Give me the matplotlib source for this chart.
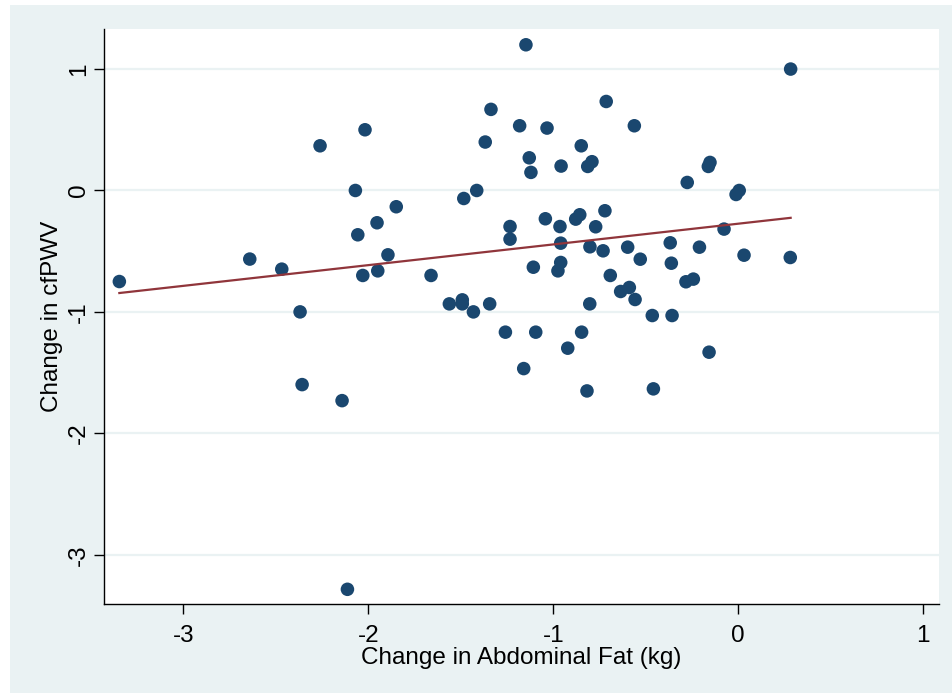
import numpy as np
import matplotlib
matplotlib.use('Agg')
import matplotlib.pyplot as plt
from matplotlib.patches import Rectangle

# Change in abdominal fat (kg) vs change in cfPWV
abd_fat = [
    -3.346, -2.641, -2.468, -2.369, -2.261, -2.018, -2.070, -2.057, -1.953, -1.849,
    -1.894, -2.030, -1.949, -2.358, -2.142, -2.113, -1.148, -1.337, -0.714, -1.182,
    -1.034, -0.562, -1.368, -0.849, -1.130, -1.121, -0.958, -0.814, -0.791, -0.276,
    -1.484, -1.414, -1.234, -1.234, -1.043, -0.964, -0.879, -0.857, -0.721, -0.771,
    -0.960, -0.802, -0.731, -0.598, -0.368, -0.210, -0.530, -0.362, -1.661, -1.108,
    -0.960, -0.975, -0.692, -0.636, -0.589, -0.558, -0.283, -0.243, -1.562, -1.492,
    -1.492, -1.432, -1.344, -0.803, -0.465, -0.358, 0.283, -0.162, -0.153, -0.012,
    0.005, -0.077, 0.031, 0.281, -1.259, -1.095, -0.847, -0.922, -1.160, -0.818,
    -0.459, -0.158,
]
cfpwv = [
    -0.750, -0.565, -0.648, -1.000, 0.368, 0.500, 0.000, -0.365, -0.266, -0.134,
    -0.530, -0.700, -0.662, -1.599, -1.731, -3.285, 1.200, 0.668, 0.733, 0.533,
    0.514, 0.533, 0.399, 0.368, 0.269, 0.149, 0.201, 0.198, 0.237, 0.066,
    -0.066, 0.000, -0.297, -0.401, -0.233, -0.297, -0.236, -0.200, -0.167, -0.299,
    -0.434, -0.464, -0.497, -0.467, -0.431, -0.467, -0.566, -0.599, -0.700, -0.632,
    -0.593, -0.662, -0.700, -0.832, -0.799, -0.898, -0.752, -0.730, -0.934, -0.901,
    -0.934, -1.000, -0.934, -0.934, -1.030, -1.030, 1.000, 0.198, 0.231, -0.033,
    0.000, -0.318, -0.533, -0.552, -1.167, -1.167, -1.167, -1.299, -1.467, -1.651,
    -1.634, -1.332,
]

x_ticks = [-3, -2, -1, 0, 1]
y_ticks = [-3, -2, -1, 0, 1]

NAVY = '#1a476f'
MAROON = '#90353b'
BG = '#eaf2f3'

plt.rcParams['font.family'] = ['Liberation Sans', 'DejaVu Sans']
plt.rcParams['axes.unicode_minus'] = False

fig = plt.figure(figsize=(9.53, 6.93), dpi=100)
# Stata-style graph region (white strip at top and left)
fig.patches.append(Rectangle((10 / 953, 0), 1 - 10 / 953, 1 - 5 / 693,
                             transform=fig.transFigure, facecolor=BG,
                             edgecolor='none', zorder=-10))

ax = fig.add_axes([104 / 953, 89 / 693, 835 / 953, 575 / 693])
ax.set_facecolor('white')

xs = np.array(abd_fat)
ys = np.array(cfpwv)
ax.scatter(xs, ys, s=95, color=NAVY, edgecolor='none', zorder=3)

# linear fit
slope, icpt = np.polyfit(xs, ys, 1)
xl = np.array([xs.min(), xs.max()])
ax.plot(xl, slope * xl + icpt, color=MAROON, lw=1.6, zorder=4)

ax.set_xlim(-3.429, 1.085)
ax.set_ylim(-3.406, 1.33)
ax.set_xticks(x_ticks)
ax.set_yticks(y_ticks)
ax.set_yticklabels([str(v) for v in y_ticks], rotation=90, va='center')
ax.tick_params(axis='both', labelsize=17.5, length=7, width=1)
ax.tick_params(axis='x', pad=8)
ax.tick_params(axis='y', pad=3)
ax.grid(True, axis='y', color=BG, lw=1.6, zorder=0)
ax.set_axisbelow(True)

for side in ['top', 'right']:
    ax.spines[side].set_visible(False)
ax.spines['left'].set_linewidth(1)
ax.spines['bottom'].set_linewidth(1)

ax.set_xlabel('Change in Abdominal Fat (kg)', fontsize=17.5, labelpad=0)
ax.set_ylabel('Change in cfPWV', fontsize=17.5, labelpad=4)

fig.savefig('out.png', dpi=100)
